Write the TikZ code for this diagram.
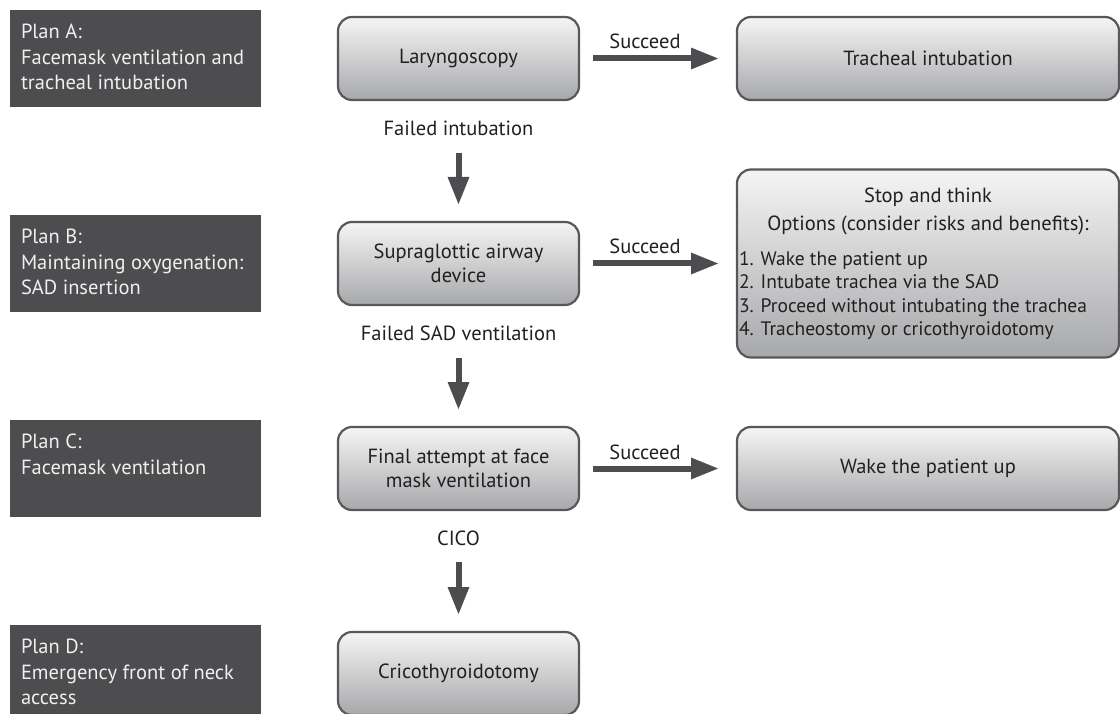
\documentclass[tikz,border=0pt]{standalone}
\usepackage{fontspec}
\setmainfont{PT Sans}
\usetikzlibrary{arrows.meta}
\definecolor{darkbox}{HTML}{4D4D4F}
\definecolor{edgec}{HTML}{58585A}
\definecolor{ink}{HTML}{231F20}
\definecolor{gtop}{HTML}{F5F5F5}
\definecolor{gbot}{HTML}{A7A8AA}
\definecolor{arrowc}{HTML}{4D4D4F}
\begin{document}
\begin{tikzpicture}[x=1pt,y=-1pt,
  flowbox/.style={draw=edgec, line width=2.2pt, rounded corners=14pt,
    top color=gtop, bottom color=gbot, text=ink, align=center,
    inner sep=0pt, outer sep=0pt, minimum height=83pt,
    font=\fontsize{20.5pt}{24pt}\selectfont},
  narrowbox/.style={flowbox, minimum width=241pt},
  widebox/.style={flowbox, minimum width=382pt},
  planbox/.style={fill=darkbox, text=white!94!black, inner sep=0pt, outer sep=0pt,
    anchor=north west, minimum width=251pt, minimum height=97pt,
    font=\fontsize{20.5pt}{25.5pt}\selectfont},
  lab/.style={text=ink, inner sep=0pt, anchor=base, font=\fontsize{20.5pt}{24pt}\selectfont},
  bigarrow/.style={draw=arrowc, line width=6pt, -{Triangle[length=28pt,width=20pt]}}
]
\useasboundingbox (0,0) rectangle (1120,714);

% plan boxes
\node[planbox] (pa) at (10,10) {\parbox[t][97pt][t]{229pt}{\vspace*{11pt}\strut Plan A:\\Facemask ventilation and\\tracheal intubation}};
\node[planbox] (pb) at (10,215) {\parbox[t][97pt][t]{229pt}{\vspace*{11pt}\strut Plan B:\\Maintaining oxygenation:\\SAD insertion}};
\node[planbox] (pc) at (10,420) {\parbox[t][97pt][t]{229pt}{\vspace*{11pt}\strut Plan C:\\Facemask ventilation}};
\node[planbox] (pd) at (10,625) {\parbox[t][97pt][t]{229pt}{\vspace*{11pt}\strut Plan D:\\Emergency front of neck\\access}};

% flow boxes
\node[narrowbox] (lar) at (458.5,58.5) {Laryngoscopy};
\node[widebox] (tra) at (928,58.5) {Tracheal intubation};
\node[narrowbox] (sad) at (458.5,263.5) {Supraglottic airway\\device};
\node[widebox, minimum height=188pt] (stop) at (928,263.5) {\parbox{378pt}{\fontsize{20.5pt}{23.5pt}\selectfont\centering Stop and think\\[4.5pt]
  Options (consider risks and benefits):\par\vspace{11.5pt}\fontsize{19.5pt}{23.5pt}\selectfont\raggedright
  1. Wake the patient up\\
  2. Intubate trachea via the SAD\\
  3. Proceed without intubating the trachea\\
  4. Tracheostomy or cricothyroidotomy\par}};
\node[narrowbox] (fin) at (458.5,468.5) {Final attempt at face\\mask ventilation};
\node[widebox] (wake) at (928,468.5) {Wake the patient up};
\node[narrowbox] (cri) at (458.5,673.5) {Cricothyroidotomy};

% labels
\node[lab] (l1) at (458.5,136) {Failed intubation};
\node[lab] (l2) at (458.5,341) {Failed SAD ventilation};
\node[lab] (l3) at (458.5,545) {CICO};
\node[lab] (s1) at (645,49) {Succeed};
\node[lab] (s2) at (645,254) {Succeed};
\node[lab] (s3) at (645,459) {Succeed};

% connectors
\draw[bigarrow, shorten <=14pt, shorten >=18pt] (lar.east) -- (tra.west);
\draw[bigarrow, shorten <=14pt, shorten >=18pt] (sad.east) -- (sad.east -| stop.west);
\draw[bigarrow, shorten <=14pt, shorten >=18pt] (fin.east) -- (wake.west);
\draw[bigarrow, shorten <=17pt, shorten >=17pt] (l1.south) -- (sad.north);
\draw[bigarrow, shorten <=17pt, shorten >=17pt] (l2.south) -- (fin.north);
\draw[bigarrow, shorten <=17pt, shorten >=17pt] (l3.south) -- (cri.north);
\end{tikzpicture}
\end{document}
